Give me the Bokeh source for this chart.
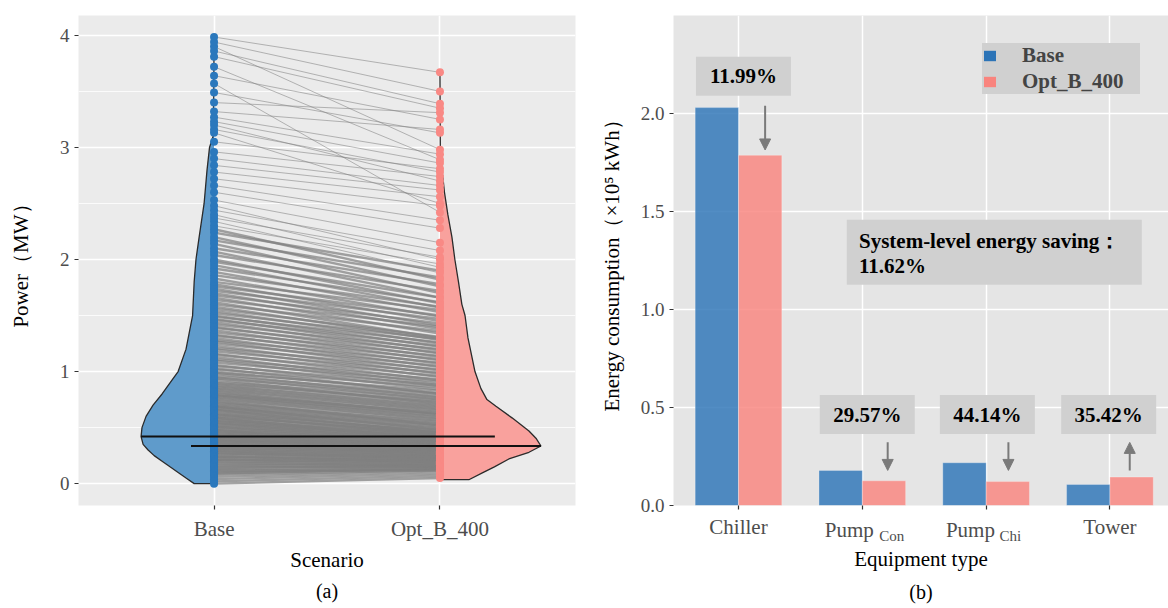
from bokeh.plotting import figure
from bokeh.layouts import row
from bokeh.models import (ColumnDataSource, Range1d, FixedTicker, Arrow, NormalHead,
                          Legend, LegendItem, Title, PrintfTickFormatter, LinearAxis)
from bokeh.embed import file_html
from bokeh.resources import INLINE

SERIF = "Liberation Serif"

# ---------------- Panel (a) data ----------------
scenarios = ["Base", "Opt_B_400"]

base_mw = [
    0.00, 0.02, 0.04, 0.06, 0.08, 0.09,
    0.10, 0.11, 0.12, 0.13, 0.14, 0.15, 0.16, 0.17, 0.18, 0.19,
    0.20, 0.21, 0.21, 0.22, 0.23, 0.24, 0.24, 0.25, 0.26, 0.27, 0.27, 0.28, 0.29, 0.29,
    0.30, 0.31, 0.31, 0.32, 0.33, 0.33, 0.34, 0.35, 0.35, 0.36, 0.37, 0.37, 0.38, 0.39, 0.39,
    0.40, 0.41, 0.41, 0.42, 0.42, 0.43, 0.44, 0.44, 0.45, 0.46, 0.46, 0.47, 0.48, 0.48, 0.49,
    0.50, 0.51, 0.51, 0.52, 0.53, 0.54, 0.54, 0.55, 0.56, 0.56, 0.57, 0.58, 0.59, 0.59,
    0.60, 0.61, 0.62, 0.62, 0.63, 0.64, 0.65, 0.66, 0.66, 0.67, 0.68, 0.69, 0.69,
    0.70, 0.71, 0.72, 0.73, 0.74, 0.75, 0.76, 0.77, 0.78, 0.79, 0.79,
    0.80, 0.81, 0.82, 0.83, 0.84, 0.85, 0.86, 0.87, 0.88, 0.89,
    0.90, 0.91, 0.93, 0.94, 0.95, 0.96, 0.98, 0.99,
    1.00, 1.02, 1.03, 1.05, 1.06, 1.08, 1.10, 1.11, 1.13, 1.15,
    1.16, 1.18, 1.20, 1.21, 1.23, 1.25, 1.27, 1.28, 1.30, 1.32,
    1.33, 1.35, 1.37, 1.39, 1.40, 1.42, 1.44, 1.46, 1.47, 1.49,
    1.50, 1.52, 1.54, 1.56, 1.58, 1.60, 1.62, 1.64, 1.66, 1.68, 1.70,
    1.72, 1.74, 1.76, 1.78, 1.80, 1.83, 1.86, 1.89, 1.92, 1.95, 1.98,
    2.00, 2.04, 2.07, 2.10, 2.14, 2.17, 2.20, 2.24, 2.27, 2.30, 2.34, 2.37, 2.40, 2.44, 2.48,
    2.53, 2.60, 2.66, 2.72, 2.78, 2.84, 2.90, 2.96,
    3.05, 3.13, 3.16, 3.20, 3.23, 3.27, 3.32, 3.40, 3.49, 3.57, 3.64, 3.72, 3.81, 3.86, 3.90, 3.94, 3.985,
]
opt_mw = [
    0.05, 0.07, 0.09, 0.11, 0.12, 0.13,
    0.13, 0.14, 0.12, 0.15, 0.16, 0.14, 0.17, 0.15, 0.18, 0.16,
    0.17, 0.19, 0.20, 0.18, 0.21, 0.20, 0.22, 0.19, 0.23, 0.21, 0.24, 0.22, 0.25, 0.23,
    0.24, 0.26, 0.25, 0.27, 0.28, 0.26, 0.29, 0.27, 0.30, 0.28, 0.31, 0.29, 0.32, 0.30, 0.33,
    0.31, 0.33, 0.32, 0.34, 0.33, 0.35, 0.34, 0.36, 0.33, 0.35, 0.37, 0.36, 0.34, 0.38, 0.37,
    0.38, 0.36, 0.40, 0.39, 0.41, 0.37, 0.42, 0.40, 0.43, 0.41, 0.44, 0.42, 0.45, 0.39,
    0.46, 0.44, 0.47, 0.43, 0.48, 0.46, 0.50, 0.49, 0.45, 0.52, 0.51, 0.48, 0.54,
    0.53, 0.56, 0.55, 0.58, 0.52, 0.60, 0.57, 0.62, 0.59, 0.64, 0.61,
    0.63, 0.66, 0.62, 0.68, 0.65, 0.70, 0.67, 0.72, 0.69, 0.74,
    0.73, 0.76, 0.71, 0.78, 0.75, 0.80, 0.77, 0.83,
    0.81, 0.86, 0.80, 0.88, 0.84, 0.91, 0.87, 0.93, 0.89, 0.96,
    0.92, 0.99, 0.95, 1.02, 0.98, 1.05, 1.01, 1.08, 1.04, 1.11,
    1.07, 1.14, 1.10, 1.17, 1.13, 1.20, 1.16, 1.23, 1.19, 1.26,
    1.22, 1.29, 1.25, 1.31, 1.28, 1.36, 1.30, 1.40, 1.34, 1.43, 1.38,
    1.47, 1.41, 1.50, 1.45, 1.55, 1.49, 1.58, 1.53, 1.62, 1.57, 1.66,
    1.61, 1.72, 1.66, 1.78, 1.70, 1.84, 1.76, 1.90, 1.82, 1.96, 1.88, 2.02, 1.93, 2.08, 2.00,
    2.15, 2.28, 2.35, 2.48, 2.56, 2.62, 2.66, 2.74,
    2.81, 2.50, 2.78, 2.70, 2.86, 2.94, 3.16, 3.31, 3.13, 2.42, 3.25, 2.89, 3.35, 3.39, 2.98, 3.50, 3.67,
]
n_pairs = min(len(base_mw), len(opt_mw))

# half-violin density outlines (half-width in category units)
base_violin_y = [0.00, 0.05, 0.10, 0.15, 0.20, 0.25, 0.30, 0.35, 0.42, 0.50, 0.60, 0.70, 0.80,
                 0.90, 1.00, 1.20, 1.50, 1.80, 2.00, 2.20, 2.50, 2.80, 3.00, 3.10, 3.50, 3.985]
base_violin_w = [0.088, 0.124, 0.159, 0.195, 0.230, 0.265, 0.292, 0.314, 0.323, 0.319, 0.301, 0.270, 0.230,
                 0.195, 0.159, 0.124, 0.095, 0.088, 0.080, 0.066, 0.044, 0.031, 0.020, 0.004, 0.001, 0.0]
opt_violin_y = [0.035, 0.10, 0.15, 0.22, 0.28, 0.336, 0.40, 0.47, 0.587, 0.69, 0.75, 0.85,
                1.00, 1.30, 1.50, 1.60, 1.80, 2.00, 2.20, 2.40, 2.60, 2.75, 2.82, 3.67]
opt_violin_w = [0.128, 0.192, 0.241, 0.305, 0.394, 0.447, 0.427, 0.394, 0.319, 0.248, 0.208, 0.181,
                0.155, 0.124, 0.111, 0.097, 0.082, 0.066, 0.053, 0.035, 0.020, 0.012, 0.002, 0.0]
base_median = 0.42
opt_median = 0.335

# ---------------- Panel (b) data ----------------
equipment = ["Chiller", "Pump", "Pump", "Tower"]
equipment_sub = ["", "Con", "Chi", ""]
base_energy = [2.03, 0.179, 0.218, 0.107]
opt_energy = [1.787, 0.126, 0.122, 0.145]
change_pct = ["11.99%", "29.57%", "44.14%", "35.42%"]
system_saving = ["System-level energy saving：", "11.62%"]
series_names = ["Base", "Opt_B_400"]

BLUE = "#2C74B7"
SALMON = "#F9847E"
TICK_COL = "#4D4D4D"


def style_axis(ax, label_size):
    ax.axis_line_color = None
    ax.major_tick_line_color = "#333333"
    ax.major_tick_line_width = 1.2
    ax.major_tick_in = 0
    ax.major_tick_out = 4
    ax.minor_tick_line_color = None
    ax.major_label_text_font = SERIF
    ax.major_label_text_font_size = label_size
    ax.major_label_text_color = TICK_COL
    ax.axis_label_text_font = SERIF
    ax.axis_label_text_font_size = "21px"
    ax.axis_label_text_font_style = "normal"
    ax.axis_label_text_color = "black"


def style_frame(p, bg):
    p.background_fill_color = bg
    p.border_fill_color = "white"
    p.outline_line_color = None
    style_axis(p.xaxis[0], "21px")
    style_axis(p.yaxis[0], "19px")


# ================= Panel (a) =================
p1 = figure(width=590, height=608, x_range=Range1d(0.4, 2.6), y_range=Range1d(-0.195, 4.177),
            output_backend="svg", toolbar_location=None,
            min_border_left=78, min_border_right=15, min_border_top=11, min_border_bottom=103)
style_frame(p1, "#EBEBEB")
xt1 = FixedTicker(ticks=[1, 2])
yt1 = FixedTicker(ticks=[0, 1, 2, 3, 4], minor_ticks=[0.5, 1.5, 2.5, 3.5])
p1.xaxis.ticker = xt1
p1.yaxis.ticker = yt1
p1.xgrid.ticker = xt1
p1.ygrid.ticker = yt1
p1.xaxis.major_label_overrides = {i + 1: s for i, s in enumerate(scenarios)}
p1.xaxis.axis_label = "Scenario"
p1.yaxis.axis_label = "Power（MW）"
p1.xaxis.major_label_standoff = 7
p1.xaxis.axis_label_standoff = 4
p1.yaxis.major_label_standoff = 5
p1.yaxis.axis_label_standoff = 24
for g in (p1.xgrid[0], p1.ygrid[0]):
    g.grid_line_color = "white"
    g.grid_line_width = 1.6
p1.ygrid.minor_grid_line_color = "white"
p1.ygrid.minor_grid_line_width = 0.8

# violins
bx = [1 - w for w in base_violin_w]
ox = [2 + w for w in opt_violin_w]
p1.patch(x=[1] + bx, y=[base_violin_y[0]] + base_violin_y, fill_color="#5F9BCB",
         fill_alpha=1.0, line_color=None)
p1.patch(x=[2] + ox, y=[opt_violin_y[0]] + opt_violin_y, fill_color="#F9A19D",
         fill_alpha=1.0, line_color=None)

# paired lines (thicker/darker where lines are dense, to mimic heavy overplotting)
dense = [b < 2.3 for b in base_mw[:n_pairs]]
src = ColumnDataSource(dict(base=base_mw[:n_pairs], opt=opt_mw[:n_pairs],
                            lw=[2.4 if d else 1.0 for d in dense],
                            la=[0.72 if d else 0.55 for d in dense]))
p1.segment(x0=1, y0="base", x1=2, y1="opt", source=src, line_color="#7F7F7F",
           line_alpha="la", line_width="lw")

# violin outlines
p1.line(x=[1] + bx, y=[base_violin_y[0]] + base_violin_y, line_color="#2B2B2B", line_width=1.3)
p1.line(x=[2] + ox, y=[opt_violin_y[0]] + opt_violin_y, line_color="#2B2B2B", line_width=1.3)

# points
p1.scatter(x=1, y="base", source=src, size=8, fill_color="#2B78BC", line_color=None)
p1.scatter(x=2, y="opt", source=src, size=8, fill_color="#F98985", line_color=None)

# medians
p1.segment(x0=[1 - 0.323, 0.898], y0=[base_median, opt_median],
           x1=[2.243, 2 + 0.447], y1=[base_median, opt_median],
           line_color="#111111", line_width=2)

p1.add_layout(Title(text="(a)", align="center", text_font=SERIF, text_font_size="20px",
                    text_font_style="normal", text_color="black", standoff=6), "below")

# ================= Panel (b) =================
p2 = figure(width=578, height=608, x_range=Range1d(0.475, 4.473), y_range=Range1d(0, 2.5),
            output_backend="svg", toolbar_location=None,
            min_border_left=83, min_border_right=0, min_border_top=15, min_border_bottom=101)
style_frame(p2, "#E5E5E5")
xt2 = FixedTicker(ticks=[1, 2, 3, 4])
yt2 = FixedTicker(ticks=[0, 0.5, 1.0, 1.5, 2.0])
p2.xaxis.ticker = xt2
p2.yaxis.ticker = yt2
p2.xgrid.ticker = xt2
p2.ygrid.ticker = yt2
p2.yaxis.formatter = PrintfTickFormatter(format="%.1f")
p2.xaxis.major_label_overrides = {i + 1: (s if not equipment_sub[i] else "")
                                  for i, s in enumerate(equipment)}
p2.yaxis.axis_label = "Energy consumption（×10⁵ kWh）"
p2.xaxis.major_label_standoff = 5
p2.yaxis.major_label_standoff = 5
p2.yaxis.axis_label_standoff = 14
for g in (p2.xgrid[0], p2.ygrid[0]):
    g.grid_line_color = "white"
    g.grid_line_width = 1.5

# "Pump" words and their subscripts, as extra label-only axes lifted into the tick-label row
pump_pos = [1.895, 2.873]
sub_pos = [2.238, 3.196]
sub_names = [s for s in equipment_sub if s]
pump_names = [equipment[i] for i, s in enumerate(equipment_sub) if s]
ax_pump = LinearAxis(ticker=FixedTicker(ticks=pump_pos),
                     major_label_overrides=dict(zip(pump_pos, pump_names)))
style_axis(ax_pump, "21px")
ax_pump.major_tick_line_color = None
ax_pump.major_tick_out = 0
ax_pump.major_label_standoff = -24
p2.add_layout(ax_pump, "below")

ax_sub = LinearAxis(ticker=FixedTicker(ticks=sub_pos),
                    major_label_overrides=dict(zip(sub_pos, sub_names)),
                    axis_label="Equipment type")
style_axis(ax_sub, "15px")
ax_sub.major_tick_line_color = None
ax_sub.major_tick_out = 0
ax_sub.major_label_standoff = -17
ax_sub.axis_label_standoff = 0
p2.add_layout(ax_sub, "below")

xs = list(range(1, len(equipment) + 1))
bsrc = ColumnDataSource(dict(x=[x - 0.175 for x in xs], top=base_energy))
osrc = ColumnDataSource(dict(x=[x + 0.175 for x in xs], top=opt_energy))
p2.vbar(x="x", top="top", width=0.35, source=bsrc, fill_color=BLUE, fill_alpha=0.82,
        line_color="white", line_alpha=0.35, line_width=0.8)
p2.vbar(x="x", top="top", width=0.35, source=osrc, fill_color=SALMON, fill_alpha=0.82,
        line_color="white", line_alpha=0.35, line_width=0.8)

# annotation boxes with percentage changes
box_x = [1.04, 2.04, 3.01, 3.99]
box_y = [2.19, 0.464, 0.464, 0.464]
p2.rect(x=box_x, y=box_y, width=95, height=39, width_units="screen", height_units="screen",
        fill_color="#D0D0D0", line_color=None)
p2.text(x=box_x, y=box_y, text=change_pct, text_align="center", text_baseline="middle",
        text_font=SERIF, text_font_style="bold", text_font_size="21px", text_color="black")

# arrows
arrow_specs = [(1.215, 2.039, 1.814), (2.205, 0.323, 0.179), (3.18, 0.323, 0.179), (4.16, 0.179, 0.322)]
for ax_, y0, y1 in arrow_specs:
    p2.add_layout(Arrow(end=NormalHead(size=11, fill_color="#7A7A7A", line_color="#7A7A7A"),
                        x_start=ax_, y_start=y0, x_end=ax_, y_end=y1,
                        line_color="#7A7A7A", line_width=2))

# system-level saving box
p2.rect(x=[3.066], y=[1.292], width=295, height=65, width_units="screen", height_units="screen",
        fill_color="#D0D0D0", line_color=None)
p2.text(x=[1.973, 1.973], y=[1.352, 1.22], text=system_saving, text_align="left",
        text_baseline="middle", text_font=SERIF, text_font_style="bold", text_font_size="21px",
        text_color="black")

# legend (key glyphs drawn at full opacity)
lb = p2.vbar(x=[0], top=[0], width=0, fill_color=BLUE, line_color=None)
lo = p2.vbar(x=[0], top=[0], width=0, fill_color=SALMON, line_color=None)
legend = Legend(items=[LegendItem(label=series_names[0], renderers=[lb]),
                       LegendItem(label=series_names[1], renderers=[lo])],
                location=(309, 411), background_fill_color="#D0D0D0", background_fill_alpha=1,
                border_line_color=None, padding=8, spacing=1, glyph_width=15, glyph_height=13,
                label_height=22, label_width=118, label_standoff=25, label_text_font=SERIF,
                label_text_font_style="bold", label_text_font_size="21px", margin=0)
p2.add_layout(legend)

p2.add_layout(Title(text="(b)", align="center", text_font=SERIF, text_font_size="20px",
                    text_font_style="normal", text_color="black", standoff=10), "below")

layout = row(p1, p2)
open("out.html", "w").write(file_html(layout, INLINE))
